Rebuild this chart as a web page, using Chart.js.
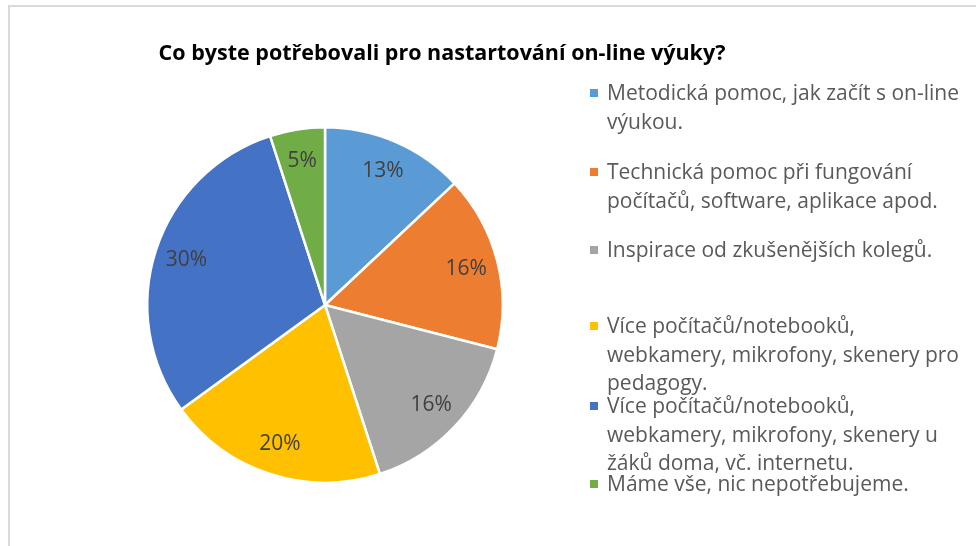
<!DOCTYPE html>
<html>
<head>
<meta charset="utf-8">
<script src="https://cdn.jsdelivr.net/npm/chart.js@4/dist/chart.umd.min.js"></script>
<style>
  html, body { margin:0; padding:0; background:#fff; }
  #wrap { position:relative; width:976px; height:546px; overflow:hidden; }
  #frame { position:absolute; left:8px; top:5px; width:980px; height:560px; border-left:2px solid #d9d9d9; border-top:2px solid #d9d9d9; }
  #c { position:absolute; left:0; top:0; }
  #title { position:absolute; left:0; width:884px; top:38px; text-align:center; font-family:"Open Sans", sans-serif; font-weight:bold; font-size:21.5px; line-height:28px; color:#000; white-space:nowrap; }
  .lg { position:absolute; left:590px; font-family:"Open Sans", sans-serif; font-size:21px; color:#595959; line-height:29px; }
  .lg .t { position:absolute; left:17px; top:0; width:370px; white-space:nowrap; }
  .lg .m { position:absolute; left:0; top:11px; width:8px; height:8px; }
</style>
</head>
<body>
<div id="wrap">
  <div id="frame"></div>
  <canvas id="c" width="976" height="546"></canvas>
  <div id="title"></div>
  <div id="legend"></div>
</div>
<script>
const title = "Co byste potřebovali pro nastartování on-line výuky?";
const categories = [
  "Metodická pomoc, jak začít s on-line výukou.",
  "Technická pomoc při fungování počítačů, software, aplikace apod.",
  "Inspirace od zkušenějších kolegů.",
  "Více počítačů/notebooků, webkamery, mikrofony, skenery pro pedagogy.",
  "Více počítačů/notebooků, webkamery, mikrofony, skenery u žáků doma, vč. internetu.",
  "Máme vše, nic nepotřebujeme."
];
const legendLines = [
  ["Metodická pomoc, jak začít s on-line", "výukou."],
  ["Technická pomoc při fungování", "počítačů, software, aplikace apod."],
  ["Inspirace od zkušenějších kolegů."],
  ["Více počítačů/notebooků,", "webkamery, mikrofony, skenery pro", "pedagogy."],
  ["Více počítačů/notebooků,", "webkamery, mikrofony, skenery u", "žáků doma, vč. internetu."],
  ["Máme vše, nic nepotřebujeme."]
];
const values = [13, 16, 16, 20, 30, 5];
const colors = ["#5B9BD5", "#ED7D31", "#A5A5A5", "#FFC000", "#4472C4", "#70AD47"];
const legendTops = [78, 157, 235, 311, 391, 469];

document.getElementById('title').textContent = title;
const lg = document.getElementById('legend');
legendLines.forEach((lines, i) => {
  const d = document.createElement('div');
  d.className = 'lg';
  d.style.top = legendTops[i] + 'px';
  const m = document.createElement('div');
  m.className = 'm';
  m.style.background = colors[i];
  d.appendChild(m);
  lines.forEach((ln, j) => {
    const t = document.createElement('div');
    t.className = 't';
    t.style.top = (j * 29 - (i >= 3 && j === 2 ? 1 : 0)) + 'px';
    t.textContent = ln;
    d.appendChild(t);
  });
  lg.appendChild(d);
});

const labelPlugin = {
  id: 'pctLabels',
  afterDatasetsDraw(chart) {
    const ctx = chart.ctx;
    const meta = chart.getDatasetMeta(0);
    ctx.save();
    ctx.font = '21px "Open Sans", sans-serif';
    ctx.fillStyle = '#404040';
    ctx.textAlign = 'center';
    ctx.textBaseline = 'middle';
    meta.data.forEach((el, i) => {
      const p = el.getProps(['startAngle', 'endAngle', 'outerRadius', 'x', 'y'], true);
      const a = (p.startAngle + p.endAngle) / 2;
      const r = p.outerRadius * 0.82;
      ctx.fillText(values[i] + '%', p.x + Math.cos(a) * r, p.y + Math.sin(a) * r);
    });
    ctx.restore();
  }
};

new Chart(document.getElementById('c'), {
  type: 'pie',
  data: {
    labels: categories,
    datasets: [{
      data: values,
      backgroundColor: colors,
      borderColor: '#ffffff',
      borderWidth: 2.5
    }]
  },
  options: {
    responsive: false,
    animation: false,
    layout: { padding: { left: 146, top: 126, right: 472, bottom: 62 } },
    plugins: { legend: { display: false }, tooltip: { enabled: false }, title: { display: false } }
  },
  plugins: [labelPlugin]
});
</script>
</body>
</html>
